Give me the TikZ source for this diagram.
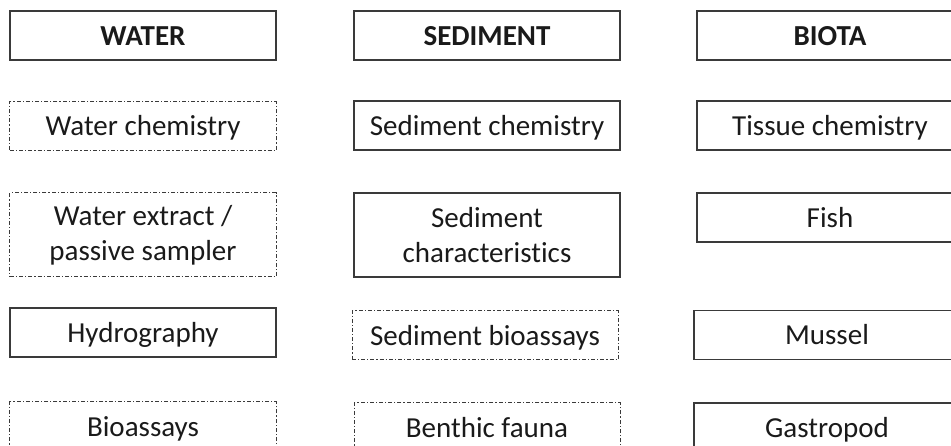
\documentclass[tikz,border=0pt]{standalone}
\usepackage{fontspec}
\setmainfont[Ligatures={NoCommon}]{Carlito}
\definecolor{edge}{HTML}{3A3A3A}
\definecolor{txt}{HTML}{1A1A1A}
\tikzset{
  basebox/.style={draw=edge, line width=1.1bp, rectangle, minimum width=266bp,
    inner sep=0pt, align=center, text=txt, font=\fontsize{29bp}{35bp}\selectfont},
  box/.style={basebox, minimum height=49bp, text height=24.6bp, text depth=4.6bp},
  tallbox/.style={basebox, minimum height=84bp},
  dashdotbox/.style={dash pattern=on 4bp off 2bp on 1.2bp off 2bp, line width=1bp},
  headbox/.style={box, font=\fontsize{29bp}{35bp}\selectfont\bfseries}
}
\begin{document}
\begin{tikzpicture}[x=1bp,y=-1bp]
\useasboundingbox (0,0) rectangle (951,446);
\clip (0,0) rectangle (951,446);
% WATER column
\node[headbox] (water) at (143,35.5) {WATER};
\node[box,dashdotbox] (wchem) at (143,126) {Water chemistry};
\node[tallbox,dashdotbox] (wext) at (143,235) {Water extract /\\passive sampler};
\node[box] (hydro) at (143,332.5) {Hydrography};
\node[box,dashdotbox] (wbio) at (143,426.5) {Bioassays};
% SEDIMENT column
\node[headbox] (sed) at (487,35.5) {SEDIMENT};
\node[box] (schem) at (487,125.5) {Sediment chemistry};
\node[tallbox] (schar) at (487,235) {Sediment\\characteristics};
\node[box,dashdotbox] (sbio) at (485,335.5) {Sediment bioassays};
\node[box,dashdotbox] (benth) at (487,427.5) {Benthic fauna};
% BIOTA column
\node[headbox] (biota) at (830,35.5) {BIOTA};
\node[box] (tchem) at (830,125.5) {Tissue chemistry};
\node[box] (fish) at (830,217.5) {Fish};
\node[box] (mussel) at (827,335) {Mussel};
\node[box] (gastro) at (827,427.5) {Gastropod};
\end{tikzpicture}
\end{document}
